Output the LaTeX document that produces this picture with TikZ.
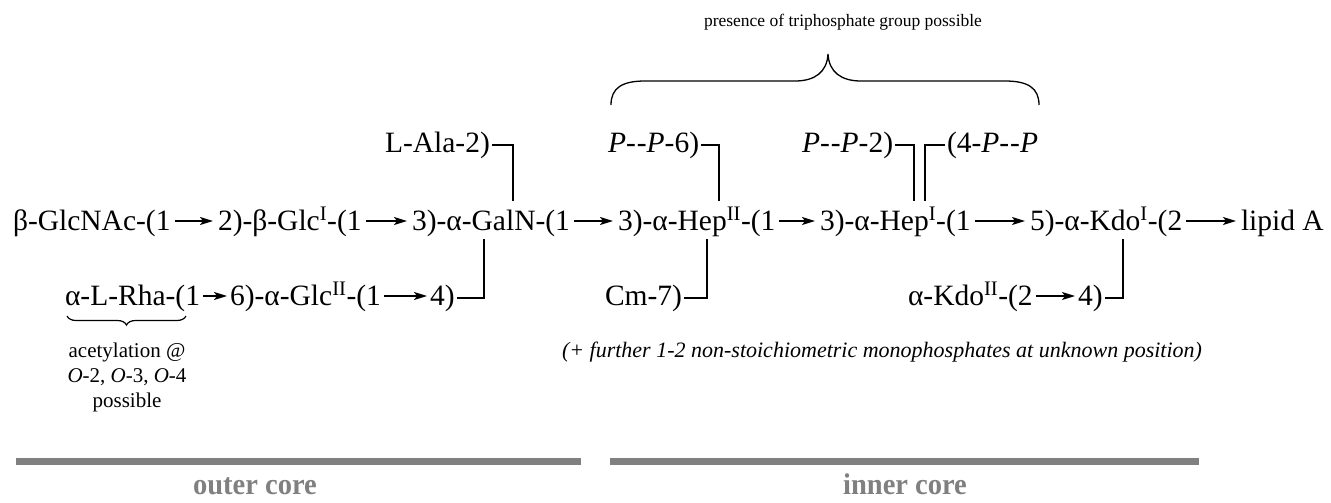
\documentclass[tikz,border=0pt]{standalone}
\usepackage{fontspec}
\setmainfont{Liberation Serif}
\newfontfamily\chainfont{Liberation Serif}
\newfontfamily\labfont{Liberation Serif}[FakeStretch=0.95]
\usetikzlibrary{arrows.meta,decorations.pathreplacing,calc}
\definecolor{bargray}{RGB}{128,128,128}
\begin{document}
\begin{tikzpicture}[x=1pt,y=-1pt,
  every node/.style={inner sep=0pt,outer sep=0pt},
  chain/.style={anchor=base west,font=\chainfont\fontsize{29.5}{36}\selectfont},
  sub/.style={anchor=base west,font=\chainfont\fontsize{29.5}{35}\selectfont},
  link/.style={-{Stealth[length=13pt,width=8pt,inset=3pt]},line width=1.6pt},
  bond/.style={line width=1.3pt,line cap=rect},
  note/.style={font=\fontsize{21}{25}\selectfont},
  corelabel/.style={anchor=base,font=\labfont\bfseries\fontsize{30}{32}\selectfont,text=bargray},
  corebar/.style={line width=7pt,draw=bargray}]
\useasboundingbox (0,0) rectangle (1331,503);

% main chain
\node[chain] (a) at (13,230) {β-GlcNAc-(1};
\node[chain] (b) at (218,230) {2)-β-Glc\textsuperscript{I}-(1};
\node[chain] (c) at (412,230) {3)-α-GalN-(1};
\node[chain] (d) at (618,230) {3)-α-Hep\textsuperscript{II}-(1};
\node[chain] (e) at (820,230) {3)-α-Hep\textsuperscript{I}-(1};
\node[chain] (f) at (1030,230) {5)-α-Kdo\textsuperscript{I}-(2};
\node[chain] (g) at (1241,230) {lipid A};
\foreach \p/\q in {a/b,b/c,c/d,d/e,e/f,f/g}
  \draw[link] ([shift={(4,-9)}]\p.base east) -- ([shift={(-5,-9)}]\q.base west);

% second row
\node[chain] (r1) at (65,305) {α-L-Rha-(1};
\node[chain] (r2) at (230,305) {6)-α-Glc\textsuperscript{II}-(1};
\node[chain] (r3) at (430,305) {4)};
\draw[link] ([shift={(3,-9)}]r1.base east) -- ([shift={(-3,-9)}]r2.base west);
\draw[link] ([shift={(3,-9)}]r2.base east) -- ([shift={(-3,-9)}]r3.base west);
\node[chain] (cm) at (605,305) {Cm-7)};
\node[chain] (k1) at (908,305) {α-Kdo\textsuperscript{II}-(2};
\node[chain] (k2) at (1078,305) {4)};
\draw[link] ([shift={(3,-9)}]k1.base east) -- ([shift={(-3,-9)}]k2.base west);

% top substituents
\node[sub] (la) at (385,152) {L-Ala-2)};
\node[sub] (pp6) at (608,152) {\textit{P}{-}\kern1pt{-}\textit{P}-6)};
\node[sub] (pp2) at (802,152) {\textit{P}{-}\kern1pt{-}\textit{P}-2)};
\node[sub] (pp4) at (947,152) {(4-\textit{P}{-}\kern1pt{-}\textit{P}};

% attachment points on the main chain
\coordinate (galnT) at (513,200);
\coordinate (galnB) at (484,240);
\coordinate (hepIIT) at (719,200);
\coordinate (hepIIB) at (707,240);
\coordinate (hepIa) at (914,200);
\coordinate (hepIb) at (925,200);
\coordinate (kdoB) at (1123,240);

\draw[bond] ([xshift=3pt]la.east) -| (galnT);
\draw[bond] ([xshift=3pt]r3.east) -| (galnB);
\draw[bond] ([xshift=3pt]pp6.east) -| (hepIIT);
\draw[bond] ([xshift=3pt]cm.east) -| (hepIIB);
\draw[bond] ([xshift=3pt]pp2.east) -| (hepIa);
\draw[bond] ([xshift=-3pt]pp4.west) -| (hepIb);
\draw[bond] ([xshift=3pt]k2.east) -| (kdoB);

% triphosphate brace
\node[font=\fontsize{17.5}{20}\selectfont] (pres) at (843,22) {presence of triphosphate group possible};
\draw[line width=1.3pt] (611,105) .. controls (611,88) and (622,81) .. (645,81)
  -- (795,81) .. controls (815,81) and (827,72) .. (828,54)
  .. controls (829,72) and (841,81) .. (861,81)
  -- (1005,81) .. controls (1028,81) and (1039,88) .. (1039,105);

% acetylation brace
\draw[line width=1.2pt,decorate,decoration={brace,mirror,amplitude=9pt}] (67,316) -- (186,316);
\node[note,align=center] (acet) at (127,377) {acetylation @\\\textit{O}-2, \textit{O}-3, \textit{O}-4\\possible};

\node[note,font=\itshape\fontsize{22}{25}\selectfont,anchor=west] (mono) at (562,352) {(+ further 1-2 non-stoichiometric monophosphates at unknown position)};

% core bars
\coordinate (o1) at (16,461); \coordinate (o2) at (581,461);
\coordinate (i1) at (610,461); \coordinate (i2) at (1199,461);
\draw[corebar] (o1) -- (o2);
\draw[corebar] (i1) -- (i2);
\node[corelabel] (outer) at (255,494) {outer core};
\node[corelabel] (inner) at (905,494) {inner core};
\end{tikzpicture}
\end{document}
